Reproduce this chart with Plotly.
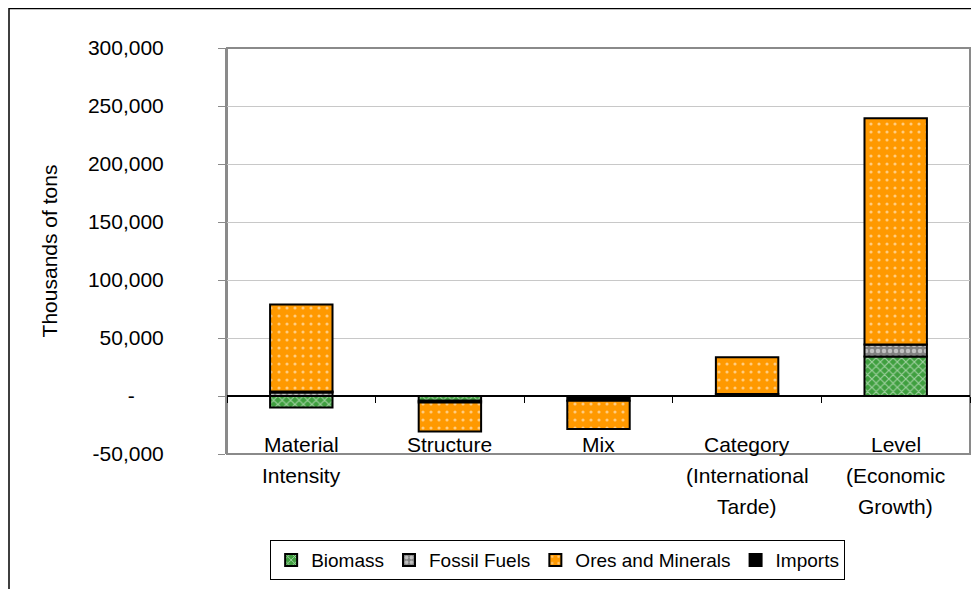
import plotly.graph_objects as go

categories = ["Material Intensity", "Structure", "Mix", "Category (International Tarde)", "Level (Economic Growth)"]
label_lines = [["Material", "Intensity"], ["Structure"], ["Mix"], ["Category", "(International", "Tarde)"], ["Level", "(Economic", "Growth)"]]

biomass = [-10000, -4000, 0, 0, 34000]
fossil_fuels = [3000, 0, 0, 0, 10500]
imports = [800, -1500, -4000, 1800, 0]
ores_minerals = [75000, -25000, -24500, 31500, 195000]

tick_vals = [-50000, 0, 50000, 100000, 150000, 200000, 250000, 300000]
tick_text = ["-50,000", "-" + "\u00a0" * 5, "50,000", "100,000", "150,000", "200,000", "250,000", "300,000"]

FONT = "Liberation Sans, Arial, sans-serif"

fig = go.Figure()
line = dict(color="black", width=2)
fig.add_trace(go.Bar(name="Biomass", x=categories, y=biomass, legendrank=1,
                     marker=dict(color="#3f9f3f", line=line,
                                 pattern=dict(shape="x", fgcolor="white", bgcolor="#3f9f3f", size=6, solidity=0.35))))
fig.add_trace(go.Bar(name="Fossil Fuels", x=categories, y=fossil_fuels, legendrank=2,
                     marker=dict(color="#808080", line=line,
                                 pattern=dict(shape=".", fgcolor="white", bgcolor="#808080", size=6, solidity=0.45))))
fig.add_trace(go.Bar(name="Imports", x=categories, y=imports, legendrank=4,
                     marker=dict(color="black", line=line)))
fig.add_trace(go.Bar(name="Ores and Minerals", x=categories, y=ores_minerals, legendrank=3,
                     marker=dict(color="#ff9900", line=line,
                                 pattern=dict(shape=".", fgcolor="white", bgcolor="#ff9900", size=8, solidity=0.12))))

for cat, lines in zip(categories, label_lines):
    for i, t in enumerate(lines):
        fig.add_annotation(x=cat, y=0, xref="x", yref="y", text=t, showarrow=False,
                           yanchor="middle", yshift=-48 - 31 * i,
                           font=dict(family=FONT, size=21, color="black"))

# plot area border
fig.add_shape(type="rect", xref="paper", yref="paper", x0=0, y0=0, x1=1, y1=1,
              line=dict(color="#8a8a8a", width=2), layer="below")
# outer chart border (left and top edges visible)
fig.add_shape(type="rect", xref="paper", yref="paper", x0=-0.2934, y0=-0.5, x1=1.05, y1=1.097,
              line=dict(color="black", width=1.5), layer="below")

# page body has an 8px margin, so shrink figure & margins by 8px
fig.update_layout(
    barmode="relative",
    bargap=0.58,
    width=971, height=581,
    margin=dict(l=219, r=9, t=40, b=135, autoexpand=False),
    paper_bgcolor="white", plot_bgcolor="white",
    font=dict(family=FONT, size=21, color="black"),
    showlegend=True,
    legend=dict(orientation="h", x=0.445, xanchor="center", y=-0.212, yanchor="top",
                bordercolor="black", borderwidth=1, bgcolor="white",
                font=dict(family=FONT, size=19), itemwidth=30, tracegroupgap=0,
                traceorder="normal"),
    xaxis=dict(anchor="free", position=50000 / 350000, showticklabels=False,
               showline=True, linecolor="black", linewidth=1.5,
               ticks="outside", tickson="boundaries", ticklen=6, tickcolor="black",
               showgrid=False, zeroline=False),
    yaxis=dict(range=[-50000, 300000], tickvals=tick_vals, ticktext=tick_text,
               showgrid=True, gridcolor="#c8c8c8", gridwidth=1,
               showline=True, linecolor="#8a8a8a", linewidth=2,
               ticks="outside", ticklen=7, tickcolor="#8a8a8a",
               ticklabelstandoff=50, zeroline=False, automargin=False,
               title=dict(text="Thousands of tons", font=dict(family=FONT, size=21), standoff=25),
               tickfont=dict(family=FONT, size=21)),
)

fig.write_html("out.html")
